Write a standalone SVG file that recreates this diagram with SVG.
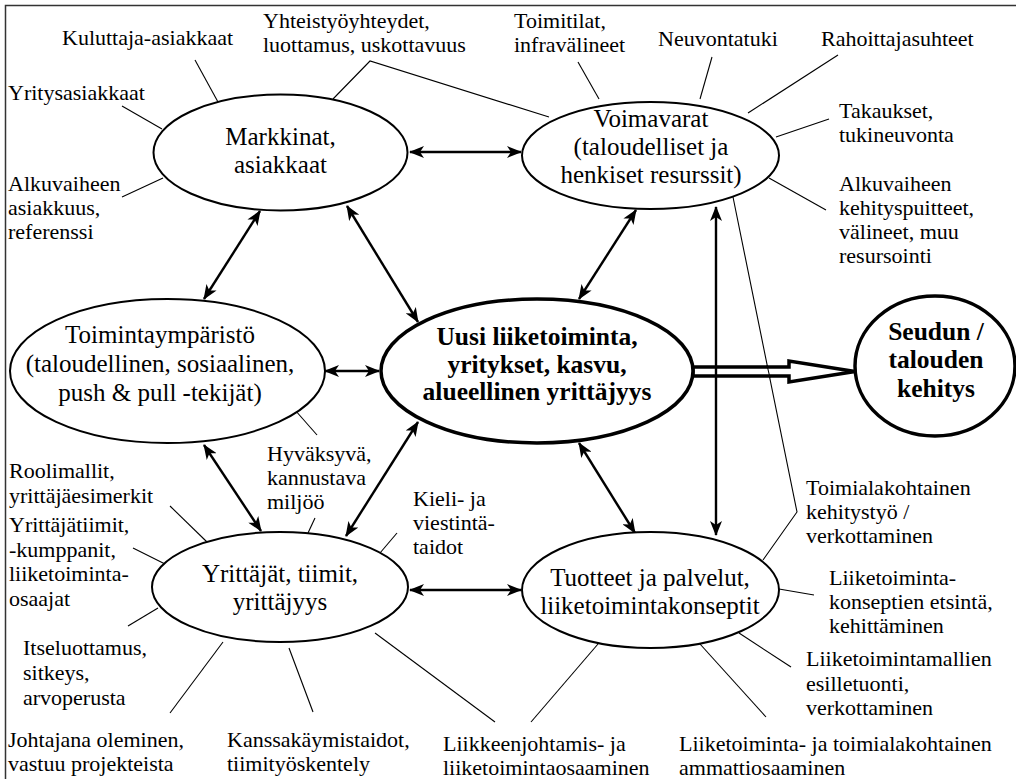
<svg xmlns="http://www.w3.org/2000/svg" width="1016" height="779" viewBox="0 0 1016 779">
<style>
text{font-family:"Liberation Serif","Times New Roman",serif;fill:#000}
.t{font-size:22px}
.e{font-size:25px;text-anchor:middle}
.b{font-size:25.5px;font-weight:bold;text-anchor:middle}
.ell{fill:#fff;stroke:#000;stroke-width:2}
.ellb{fill:#fff;stroke:#000;stroke-width:3.5}
.thin{fill:none;stroke:#000;stroke-width:1.1}
.arr{fill:none;stroke:#000;stroke-width:2.4;marker-start:url(#ah);marker-end:url(#ah)}
</style>
<defs>
<marker id="ah" viewBox="0 0 15 12" refX="14" refY="6" markerWidth="15" markerHeight="12" markerUnits="userSpaceOnUse" orient="auto-start-reverse">
<path d="M0,0 L15,6 L0,12 L4,6 z" fill="#000"/>
</marker>
</defs>
<rect x="5.5" y="5.5" width="1030" height="800" fill="#fff" stroke="#333" stroke-width="1.5"/>

<g id="connectors">
<line class="thin" x1="195" y1="60" x2="218" y2="102"/>
<polyline class="thin" points="333,99 370,61 549,117"/>
<line class="thin" x1="122" y1="106" x2="162" y2="129"/>
<line class="thin" x1="122" y1="197" x2="163" y2="178"/>
<line class="thin" x1="578" y1="62" x2="599" y2="99"/>
<line class="thin" x1="712" y1="57" x2="700" y2="99"/>
<line class="thin" x1="838" y1="55" x2="748" y2="113"/>
<line class="thin" x1="829" y1="119" x2="776" y2="137"/>
<line class="thin" x1="826" y1="210" x2="769" y2="178"/>
<polyline class="thin" points="733,197 797,512 763,560"/>
<line class="thin" x1="295" y1="410" x2="317" y2="435"/>
<line class="thin" x1="315" y1="518" x2="308" y2="533"/>
<line class="thin" x1="397" y1="533" x2="380" y2="553"/>
<line class="thin" x1="170" y1="506" x2="207" y2="542"/>
<line class="thin" x1="133" y1="548" x2="165" y2="564"/>
<line class="thin" x1="128" y1="626" x2="158" y2="608"/>
<line class="thin" x1="170" y1="713" x2="223" y2="642"/>
<line class="thin" x1="313" y1="712" x2="289" y2="648"/>
<line class="thin" x1="375" y1="633" x2="495" y2="722"/>
<line class="thin" x1="598" y1="644" x2="531" y2="722"/>
<line class="thin" x1="700" y1="644" x2="766" y2="717"/>
<line class="thin" x1="739" y1="633" x2="791" y2="667"/>
<line class="thin" x1="779" y1="589" x2="814" y2="595"/>

<line class="arr" x1="410" y1="152" x2="521" y2="152"/>
<line class="arr" x1="260" y1="211" x2="204" y2="299"/>
<line class="arr" x1="347" y1="206" x2="418" y2="322"/>
<line class="arr" x1="636" y1="210" x2="579" y2="299"/>
<line class="arr" x1="325" y1="371" x2="379" y2="371"/>
<line class="arr" x1="204" y1="445" x2="261" y2="531"/>
<line class="arr" x1="418" y1="422" x2="346" y2="536"/>
<line class="arr" x1="579" y1="443" x2="635" y2="533"/>
<line class="arr" x1="410" y1="590" x2="521" y2="590"/>
<polygon points="693,367 789,367 789,361 855,371.5 789,382 789,376 693,376" fill="#fff" stroke="#000" stroke-width="3.5" stroke-linejoin="miter"/>
<line class="arr" x1="716" y1="207" x2="716" y2="535"/>
<line class="thin" x1="767" y1="365" x2="770" y2="378"/>
</g>

<g id="markkinat">
<ellipse class="ell" cx="280.5" cy="152.5" rx="127" ry="58"/>
<text class="e" x="280.5" y="145">Markkinat,</text>
<text class="e" x="280.5" y="173">asiakkaat</text>
</g>
<g id="voimavarat">
<ellipse class="ell" cx="650.5" cy="155.5" rx="128.5" ry="53.5"/>
<text class="e" x="651" y="127">Voimavarat</text>
<text class="e" x="651" y="155">(taloudelliset ja</text>
<text class="e" x="651" y="183">henkiset resurssit)</text>
</g>
<g id="toimintaymparisto">
<ellipse class="ell" cx="167.5" cy="371" rx="157.5" ry="72"/>
<text class="e" x="160" y="343">Toimintaympäristö</text>
<text class="e" x="160" y="372">(taloudellinen, sosiaalinen,</text>
<text class="e" x="160" y="401">push &amp; pull -tekijät)</text>
</g>
<g id="uusi">
<ellipse class="ellb" cx="537" cy="371" rx="156" ry="72"/>
<text class="b" x="537" y="345">Uusi liiketoiminta,</text>
<text class="b" x="537" y="373">yritykset, kasvu,</text>
<text class="b" x="537" y="400">alueellinen yrittäjyys</text>
</g>
<g id="seudun">
<ellipse class="ellb" cx="935" cy="366" rx="80" ry="70"/>
<text class="b" x="936" y="340">Seudun /</text>
<text class="b" x="936" y="368">talouden</text>
<text class="b" x="936" y="397">kehitys</text>
</g>
<g id="yrittajat">
<ellipse class="ell" cx="280" cy="587" rx="128" ry="55"/>
<text class="e" x="280" y="582">Yrittäjät, tiimit,</text>
<text class="e" x="280" y="610">yrittäjyys</text>
</g>
<g id="tuotteet">
<ellipse class="ell" cx="650.5" cy="590" rx="128.5" ry="58"/>
<text class="e" x="650" y="586">Tuotteet ja palvelut,</text>
<text class="e" x="650" y="614">liiketoimintakonseptit</text>
</g>

<g id="labels">
<text class="t" x="62" y="45">Kuluttaja-asiakkaat</text>
<text class="t" x="263" y="28">Yhteistyöyhteydet,</text>
<text class="t" x="263" y="52">luottamus, uskottavuus</text>
<text class="t" x="8" y="100">Yritysasiakkaat</text>
<text class="t" x="8" y="191">Alkuvaiheen</text>
<text class="t" x="8" y="215">asiakkuus,</text>
<text class="t" x="8" y="239">referenssi</text>
<text class="t" x="514" y="28">Toimitilat,</text>
<text class="t" x="514" y="52">infravälineet</text>
<text class="t" x="658" y="46">Neuvontatuki</text>
<text class="t" x="821" y="46">Rahoittajasuhteet</text>
<text class="t" x="839" y="118">Takaukset,</text>
<text class="t" x="839" y="142">tukineuvonta</text>
<text class="t" x="839" y="191">Alkuvaiheen</text>
<text class="t" x="839" y="215">kehityspuitteet,</text>
<text class="t" x="839" y="239">välineet, muu</text>
<text class="t" x="839" y="263">resursointi</text>
<text class="t" x="267" y="461">Hyväksyvä,</text>
<text class="t" x="267" y="485">kannustava</text>
<text class="t" x="267" y="509">miljöö</text>
<text class="t" x="9" y="478">Roolimallit,</text>
<text class="t" x="9" y="503">yrittäjäesimerkit</text>
<text class="t" x="413" y="506">Kieli- ja</text>
<text class="t" x="413" y="530">viestintä-</text>
<text class="t" x="413" y="554">taidot</text>
<text class="t" x="9" y="532">Yrittäjätiimit,</text>
<text class="t" x="9" y="557">-kumppanit,</text>
<text class="t" x="9" y="581">liiketoiminta-</text>
<text class="t" x="9" y="606">osaajat</text>
<text class="t" x="23" y="655">Itseluottamus,</text>
<text class="t" x="23" y="680">sitkeys,</text>
<text class="t" x="23" y="705">arvoperusta</text>
<text class="t" x="8" y="747">Johtajana oleminen,</text>
<text class="t" x="8" y="771">vastuu projekteista</text>
<text class="t" x="227" y="747">Kanssakäymistaidot,</text>
<text class="t" x="227" y="771">tiimityöskentely</text>
<text class="t" x="443" y="751">Liikkeenjohtamis- ja</text>
<text class="t" x="443" y="775">liiketoimintaosaaminen</text>
<text class="t" x="679" y="751">Liiketoiminta- ja toimialakohtainen</text>
<text class="t" x="679" y="775">ammattiosaaminen</text>
<text class="t" x="806" y="495">Toimialakohtainen</text>
<text class="t" x="806" y="519">kehitystyö /</text>
<text class="t" x="806" y="543">verkottaminen</text>
<text class="t" x="829" y="585">Liiketoiminta-</text>
<text class="t" x="829" y="609">konseptien etsintä,</text>
<text class="t" x="829" y="633">kehittäminen</text>
<text class="t" x="806" y="666">Liiketoimintamallien</text>
<text class="t" x="806" y="691">esilletuonti,</text>
<text class="t" x="806" y="715">verkottaminen</text>
</g>
</svg>
